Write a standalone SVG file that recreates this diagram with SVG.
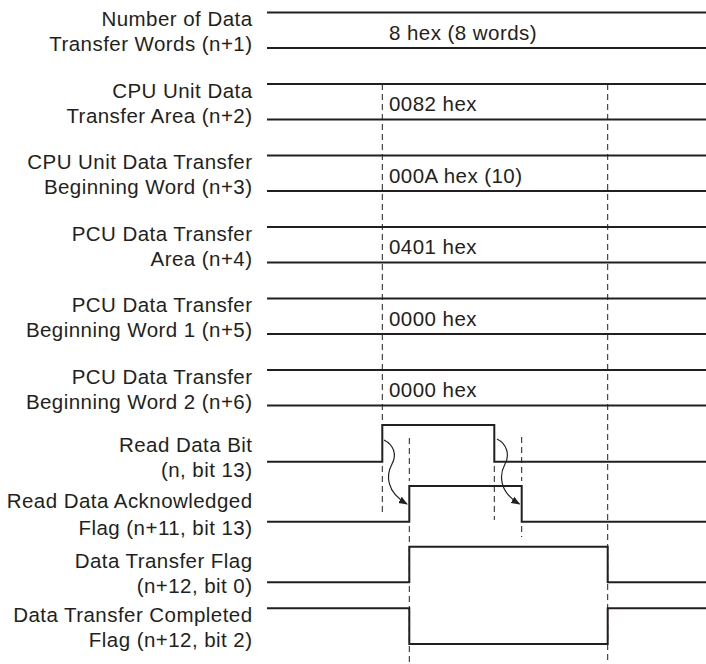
<svg xmlns="http://www.w3.org/2000/svg" width="706" height="664" viewBox="0 0 706 664">
<defs>
<style>
text{font-family:"Liberation Sans",Arial,sans-serif;font-size:20.5px;letter-spacing:0.45px;fill:#231f20}
.lbl{text-anchor:end}
.sig{fill:none;stroke:#231f20;stroke-width:2}
.dash{fill:none;stroke:#231f20;stroke-width:1;stroke-dasharray:6 4}
.arr{fill:none;stroke:#231f20;stroke-width:1.2;marker-end:url(#ah)}
</style>
<marker id="ah" viewBox="0 0 10 10" refX="9" refY="5" markerWidth="9" markerHeight="9" markerUnits="userSpaceOnUse" orient="auto">
<path d="M0,1 L10,5 L0,9 Z" fill="#231f20"/>
</marker>
</defs>
<rect width="706" height="664" fill="#fff"/>
<g id="connectors">
<path class="dash" d="M382.3,84 V425 M382.3,466 V512"/>
<path class="dash" d="M607.7,84 V664"/>
<path class="dash" d="M409.3,438 V481 M409.3,526 V664"/>
<path class="dash" d="M494.3,466 V520"/>
<path class="dash" d="M521.7,437 V481 M521.7,526 V537"/>
<path class="arr" d="M384,440 C394,445 397,455 392,464 C386,475 386,492 407,504"/>
<path class="arr" d="M497,439 C507,444 510,455 505,464 C499,475 499,492 519.5,504"/>
</g>
<g id="row-n1">
<text class="lbl" x="252.5" y="26">Number of Data</text>
<text class="lbl" x="252.5" y="51">Transfer Words (n+1)</text>
<path class="sig" d="M267,12.5 H706 M267,48 H706"/>
<text x="389" y="39.5">8 hex (8 words)</text>
</g>
<g id="row-n2">
<text class="lbl" x="252.5" y="97.5">CPU Unit Data</text>
<text class="lbl" x="252.5" y="122.5">Transfer Area (n+2)</text>
<path class="sig" d="M267,84 H706 M267,119.5 H706"/>
<text x="389" y="111">0082 hex</text>
</g>
<g id="row-n3">
<text class="lbl" x="252.5" y="169">CPU Unit Data Transfer</text>
<text class="lbl" x="252.5" y="194">Beginning Word (n+3)</text>
<path class="sig" d="M267,155.5 H706 M267,191 H706"/>
<text x="389" y="182.5">000A hex (10)</text>
</g>
<g id="row-n4">
<text class="lbl" x="252.5" y="240.5">PCU Data Transfer</text>
<text class="lbl" x="252.5" y="265.5">Area (n+4)</text>
<path class="sig" d="M267,227 H706 M267,262.5 H706"/>
<text x="389" y="254">0401 hex</text>
</g>
<g id="row-n5">
<text class="lbl" x="252.5" y="312">PCU Data Transfer</text>
<text class="lbl" x="252.5" y="337">Beginning Word 1 (n+5)</text>
<path class="sig" d="M267,298.5 H706 M267,334 H706"/>
<text x="389" y="325.5">0000 hex</text>
</g>
<g id="row-n6">
<text class="lbl" x="252.5" y="383.5">PCU Data Transfer</text>
<text class="lbl" x="252.5" y="408.5">Beginning Word 2 (n+6)</text>
<path class="sig" d="M267,370 H706 M267,405.5 H706"/>
<text x="389" y="397">0000 hex</text>
</g>
<g id="read-data-bit">
<text class="lbl" x="252.5" y="451.7">Read Data Bit</text>
<text class="lbl" x="252.5" y="476.7">(n, bit 13)</text>
<path class="sig" d="M267,461.7 H382.3 V425 H494.3 V461.7 H706"/>
</g>
<g id="read-ack-flag">
<text class="lbl" x="252.5" y="508.3">Read Data Acknowledged</text>
<text class="lbl" x="252.5" y="535">Flag (n+11, bit 13)</text>
<path class="sig" d="M267,521.7 H409.3 V486 H521.7 V521.7 H706"/>
</g>
<g id="data-transfer-flag">
<text class="lbl" x="252.5" y="568.3">Data Transfer Flag</text>
<text class="lbl" x="252.5" y="593">(n+12, bit 0)</text>
<path class="sig" d="M267,582.3 H409.3 V546.7 H607.7 V582.3 H706"/>
</g>
<g id="data-transfer-completed">
<text class="lbl" x="252.5" y="621.7">Data Transfer Completed</text>
<text class="lbl" x="252.5" y="646.7">Flag (n+12, bit 2)</text>
<path class="sig" d="M267,608.3 H409.3 V644 H607.7 V608.3 H706"/>
</g>
</svg>
